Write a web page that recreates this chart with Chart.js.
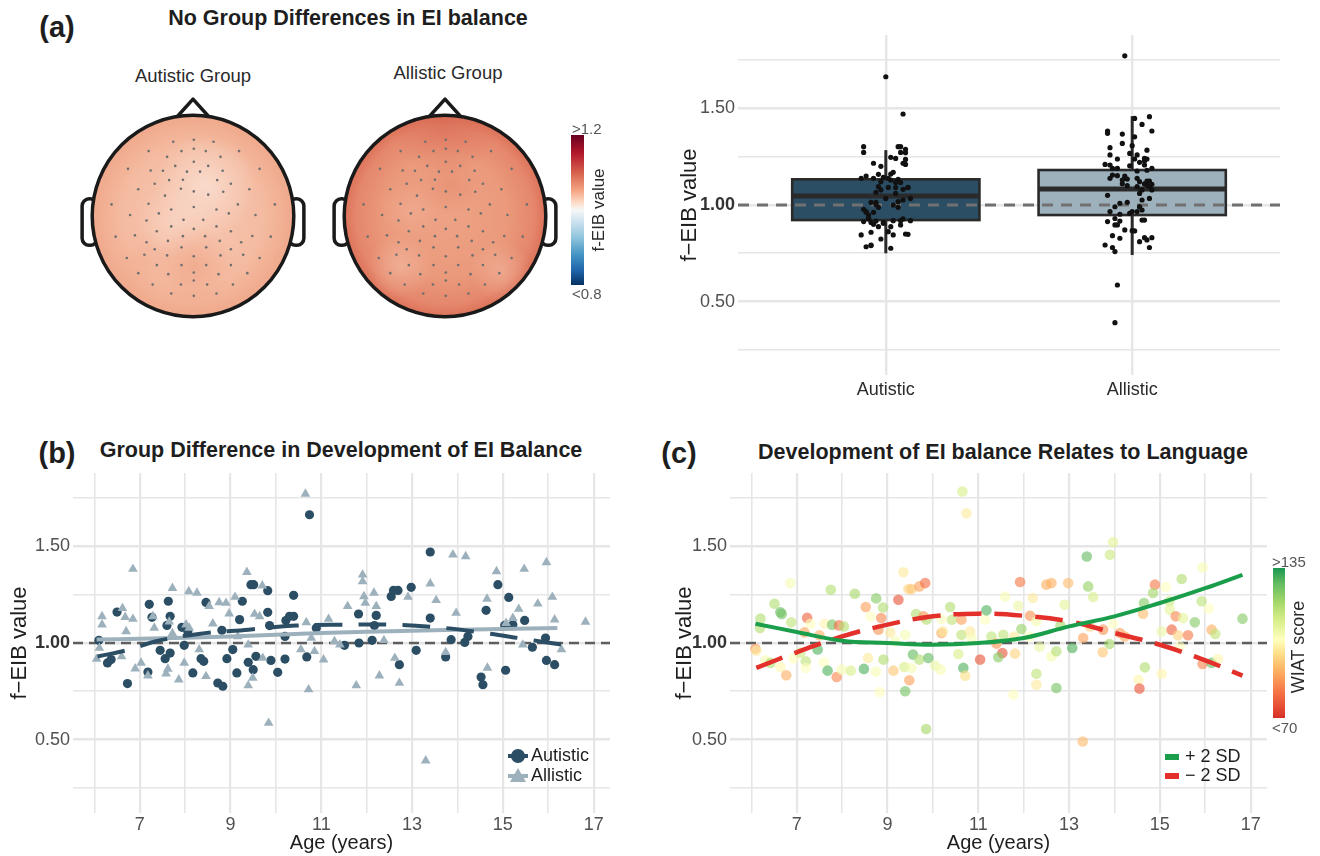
<!DOCTYPE html>
<html>
<head>
<meta charset="utf-8">
<title>f-EIB figure</title>
<script src="https://cdn.jsdelivr.net/npm/chart.js@4.4.1/dist/chart.umd.min.js"></script>
<style>
  body { margin: 0; background: #fff; font-family: "Liberation Sans", Arial, sans-serif; }
  #page { position: relative; width: 1320px; height: 856px; overflow: hidden; background: #fff; }
  canvas { position: absolute; }
  .txt { position: absolute; white-space: nowrap; transform: translate(-50%, -50%); color: #1e1e1e; }
  .tag { font-weight: bold; font-size: 29px; }
  .ttl { font-weight: bold; font-size: 21.5px; }
  .sub { font-size: 18.5px; color: #2a2a2a; }
  .cb { position: absolute; }
  .cblab { position: absolute; white-space: nowrap; font-size: 15px; color: #555; transform: translateY(-50%); }
  .vert { position: absolute; white-space: nowrap; color: #2a2a2a; transform: translate(-50%, -50%) rotate(-90deg); }
</style>
</head>
<body>
<div id="page">
  <div class="txt tag" style="left:57px; top:27px;">(a)</div>
  <div class="txt ttl" style="left:348px; top:18px;">No Group Differences in EI balance</div>
  <div class="txt sub" style="left:193px; top:76px;">Autistic Group</div>
  <div class="txt sub" style="left:448px; top:73px;">Allistic Group</div>

  <canvas id="headAut" width="260" height="260" style="left:63px; top:86px;"></canvas>
  <canvas id="headAll" width="260" height="260" style="left:315px; top:86px;"></canvas>

  <div class="cb" style="left:571px; top:135px; width:13px; height:150px;
       background: linear-gradient(to bottom, #67001f 0%, #b2182b 12%, #d6604d 25%, #f4a582 37%, #fddbc7 45%, #f7f7f7 50%, #d1e5f0 57%, #92c5de 68%, #4393c3 80%, #2166ac 90%, #053061 100%);"></div>
  <div class="cblab" style="left:572px; top:128px;">&gt;1.2</div>
  <div class="cblab" style="left:572px; top:293px;">&lt;0.8</div>
  <div class="vert" style="left:599px; top:210px; font-size:17px;">f-EIB value</div>

  <canvas id="boxChart" width="660" height="420" style="left:660px; top:0px;"></canvas>

  <div class="txt tag" style="left:57px; top:453px;">(b)</div>
  <div class="txt ttl" style="left:341px; top:450px;">Group Difference in Development of EI Balance</div>
  <canvas id="ageGroupChart" width="660" height="426" style="left:0px; top:430px;"></canvas>

  <div class="txt tag" style="left:679px; top:453px;">(c)</div>
  <div class="txt ttl" style="left:1003px; top:452px;">Development of EI balance Relates to Language</div>
  <canvas id="wiatChart" width="660" height="426" style="left:660px; top:430px;"></canvas>

  <div id="wiatBar" class="cb" style="left:1273px; top:568px; width:12px; height:150px;"></div>
  <div class="cblab" style="left:1272px; top:561px;">&gt;135</div>
  <div class="cblab" style="left:1272px; top:727px;">&lt;70</div>
  <div class="vert" style="left:1298px; top:647px; font-size:18px;">WIAT score</div>
</div>

<script>
// ---------- data ----------
const groups = ['Autistic', 'Allistic'];
const groupPos = [1, 2];
const yTicks = [0.25, 0.5, 0.75, 1, 1.25, 1.5, 1.75];
const ageTicks = [6, 7, 8, 9, 10, 11, 12, 13, 14, 15, 16, 17];

// boxplot summary
const boxQ1 = [0.922, 0.948];
const boxMedian = [1.047, 1.083];
const boxQ3 = [1.133, 1.181];
const whiskerLow = [0.75, 0.741];
const whiskerHigh = [1.284, 1.46];

// panel b - autistic participants
const autAge = [6.1, 6.29, 6.37, 6.5, 6.73, 7.18, 7.21, 7.27, 7.45, 7.56, 7.6, 7.63, 7.67, 7.67, 7.93, 7.98, 8.06, 8.17, 8.35, 8.41,
  8.46, 8.72, 8.83, 8.81, 8.92, 9.05, 9.14, 9.2, 9.26, 9.39, 9.45, 9.51, 9.5, 9.56, 9.82, 9.82, 9.86, 9.89, 10.04, 10.2,
  10.2, 10.22, 10.3, 10.39, 10.39, 10.68, 10.74, 10.89, 11.51, 11.82, 11.83, 12.12, 12.17, 12.21, 12.54, 12.59, 12.69, 12.72, 12.98, 13.09,
  13.4, 13.4, 13.74, 13.86, 14.16, 14.23, 14.52, 14.56, 14.63, 14.89, 15.06, 15.04, 15.13, 15.22, 15.48, 15.65, 15.94, 15.96, 16.14];
const autVal = [1.014, 0.897, 0.914, 1.16, 0.79, 0.85, 1.2, 1.133, 0.962, 0.919, 1.091, 1.216, 1.138, 0.948, 1.081, 0.988, 1.06, 0.845, 0.919, 0.905,
  1.21, 0.793, 0.776, 1.066, 0.919, 0.966, 0.845, 1.121, 1.216, 0.9, 1.302, 1.302, 0.862, 0.931, 1.271, 1.159, 1.09, 0.91, 0.848, 1.034,
  0.917, 1.116, 1.138, 1.247, 1.138, 0.928, 1.664, 1.078, 0.988, 1.15, 1.0, 1.014, 1.09, 1.143, 1.241, 1.272, 1.272, 0.888, 1.288, 0.962,
  1.471, 1.129, 0.928, 1.017, 1.003, 1.034, 0.824, 0.784, 1.169, 1.302, 0.859, 1.091, 1.236, 1.095, 1.117, 0.978, 1.026, 0.91, 0.888];
// horizontal jitter used for the boxplot dots
const autJitter = [-0.04, 0.06, -0.09, 0.02, -0.06, 0.08, -0.02, 0.05, -0.08, 0.03,
  0.09, -0.05, 0.01, -0.07, 0.07, -0.03, 0.04, -0.1, 0.06, -0.01,
  0.08, -0.06, 0.02, -0.04, 0.1, -0.08, 0.03, -0.02, 0.07, -0.05,
  -0.09, 0.05, 0.01, -0.07, 0.08, -0.03, 0.04, -0.06, 0.09, 0.0,
  -0.04, 0.06, -0.1, 0.02, -0.05, 0.07, 0.0, -0.02, 0.05, -0.08,
  0.03, -0.06, 0.09, -0.01, 0.04, -0.09, 0.06, -0.03, 0.08, -0.05,
  0.07, 0.02, -0.07, 0.05, -0.04, 0.1, -0.02, -0.08, 0.03, 0.06,
  -0.06, 0.01, 0.08, -0.03, 0.04, -0.09, 0.07, -0.01, 0.02];

// panel b - allistic participants
const allAge = [6.05, 6.11, 6.17, 6.17, 6.6, 6.62, 6.68, 6.7, 6.85, 6.85, 6.9, 7.03, 7.18, 7.29, 7.32, 7.58, 7.62, 7.65, 7.72, 7.72,
  7.86, 7.98, 8.02, 8.08, 8.09, 8.26, 8.31, 8.46, 8.53, 8.61, 8.75, 8.9, 8.97, 9.1, 9.16, 9.36, 9.39, 9.39, 9.49, 9.53,
  9.64, 9.7, 9.71, 9.84, 10.55, 10.65, 10.67, 10.72, 10.78, 10.85, 11.05, 11.16, 11.29, 11.41, 11.58, 11.77, 11.91, 11.91, 11.94, 11.97,
  12.16, 12.21, 12.28, 12.38, 12.62, 12.72, 12.91, 13.3, 13.4, 13.53, 13.74, 13.9, 13.97, 14.18, 14.66, 14.65, 14.86, 15.07, 15.22, 15.35,
  15.44, 15.47, 15.77, 15.96, 16.09, 16.14, 16.29, 16.82];
const allVal = [0.917, 0.974, 1.138, 1.095, 0.93, 1.18, 1.134, 1.06, 1.383, 1.124, 0.867, 0.897, 0.831, 1.138, 1.078, 0.841, 0.866, 1.11, 1.284, 1.05,
  0.81, 0.897, 1.095, 1.267, 1.078, 1.259, 0.966, 0.828, 1.19, 1.10, 1.21, 1.207, 1.152, 1.238, 1.034, 1.367, 0.991, 0.78, 0.819, 1.15,
  1.138, 1.297, 0.922, 0.586, 0.966, 1.772, 1.107, 0.759, 1.026, 0.957, 0.914, 1.124, 1.009, 0.991, 1.19, 0.78, 1.353, 1.319, 1.241, 1.207,
  1.259, 1.19, 0.831, 1.014, 0.922, 0.793, 1.238, 0.391, 1.307, 1.221, 0.952, 1.457, 1.155, 1.448, 0.871, 1.228, 1.371, 1.103, 1.129, 1.176,
  0.991, 1.383, 1.203, 1.417, 1.238, 1.121, 0.966, 1.109];
const allJitter = [-0.05, 0.04, -0.09, 0.02, -0.07, 0.06, -0.02, 0.03, -0.1, 0.07,
  0.0, -0.06, 0.05, -0.03, 0.08, -0.08, 0.01, -0.04, 0.06, -0.1,
  0.03, -0.07, 0.07, -0.01, 0.04, -0.09, 0.02, -0.05, 0.08, -0.02,
  -0.11, 0.05, -0.06, 0.01, 0.07, -0.04, 0.03, -0.08, 0.06, -0.03,
  0.02, -0.09, 0.05, -0.06, 0.0, -0.03, 0.08, -0.07, 0.04, -0.01,
  -0.1, 0.06, -0.05, 0.03, -0.08, 0.07, 0.01, -0.04, 0.05, -0.09,
  0.02, -0.06, 0.08, -0.02, 0.04, -0.11, 0.06, -0.07, 0.0, 0.03,
  -0.05, 0.07, -0.08, 0.01, -0.03, 0.05, -0.1, 0.06, -0.04, 0.02,
  -0.07, 0.08, -0.01, 0.04, -0.06, 0.03, -0.09, 0.05];

// fitted curves, panel b
const autFitAge = [6.07, 6.77, 7.36, 8.3, 9.4, 10.44, 11.48, 12.52, 13.48, 14.51, 15.5, 16.31];
const autFitVal = [0.93, 0.966, 1.009, 1.047, 1.069, 1.09, 1.095, 1.095, 1.083, 1.055, 1.02, 0.991];
const allFitAge = [6.05, 7, 9, 11, 13, 15, 16.2];
const allFitVal = [1.018, 1.022, 1.034, 1.052, 1.064, 1.072, 1.078];

// panel c - participants coloured by WIAT score
const wiatAge = [6.09, 6.11, 6.2, 6.19, 6.31, 6.42, 6.51, 6.64, 6.67, 6.64, 6.77, 6.86, 6.88, 6.93, 7.08, 7.23, 7.3, 7.17, 7.2, 7.2,
  7.46, 7.5, 7.6, 7.62, 7.68, 7.75, 7.78, 7.88, 7.93, 7.99, 8.04, 8.19, 8.28, 8.48, 8.57, 8.52, 8.63, 8.75, 8.83, 8.74,
  8.86, 8.9, 8.91, 8.8, 9.06, 9.13, 9.17, 9.24, 9.35, 9.39, 9.37, 9.39, 9.46, 9.53, 9.48, 9.53, 9.56, 9.63, 9.7, 9.7,
  9.83, 9.79, 9.86, 9.85, 9.9, 10.05, 10.17, 10.19, 10.22, 10.19, 10.38, 10.42, 10.56, 10.63, 10.65, 10.67, 10.74, 10.71, 10.63, 10.82,
  10.85, 11.04, 11.15, 11.18, 11.29, 11.4, 11.53, 11.44, 11.55, 11.59, 11.77, 11.81, 11.79, 11.88, 11.92, 11.95, 12.13, 12.14, 12.2, 12.28,
  12.28, 12.28, 12.35, 12.5, 12.61, 12.61, 12.72, 12.72, 12.81, 12.9, 12.98, 13.07, 13.3, 13.39, 13.42, 13.53, 13.31, 13.46, 13.75, 13.74,
  13.89, 13.9, 13.97, 13.97, 14.12, 14.23, 14.53, 14.55, 14.65, 14.63, 14.67, 14.89, 14.85, 15.04, 15.04, 15.13, 15.21, 15.22, 15.35, 15.26,
  15.4, 15.44, 15.48, 15.51, 15.62, 15.77, 15.92, 15.94, 16.08, 16.14, 16.22, 15.94, 16.14, 16.28, 16.82];
const wiatVal = [0.97, 0.96, 1.126, 1.078, 0.91, 0.897, 1.203, 1.159, 1.15, 0.876, 0.833, 1.31, 1.107, 0.92, 0.95, 1.13, 1.1, 1.055, 0.905, 0.87,
  0.966, 1.04, 0.9, 1.1, 0.857, 1.276, 1.095, 0.824, 1.091, 0.862, 1.086, 0.857, 1.255, 0.866, 0.922, 1.186, 1.138, 1.231, 0.745, 0.852,
  1.129, 1.184, 0.914, 1.069, 1.055, 0.857, 1.009, 1.224, 1.366, 1.043, 0.876, 0.75, 1.279, 1.279, 0.807, 0.87, 0.94, 1.15, 1.293, 0.914,
  1.31, 1.138, 1.121, 0.555, 0.922, 0.883, 0.862, 1.052, 1.06, 1.124, 1.186, 1.12, 0.943, 1.043, 1.784, 0.871, 1.672, 0.831, 1.121, 1.06,
  1.026, 0.914, 1.121, 1.169, 1.034, 0.997, 0.948, 0.926, 1.043, 1.241, 0.733, 0.945, 1.034, 1.193, 1.316, 1.072, 1.034, 1.141, 1.233, 1.112,
  0.841, 0.784, 0.98, 1.302, 1.31, 0.93, 0.957, 0.767, 1.091, 1.198, 1.31, 0.974, 0.49, 1.448, 1.293, 1.238, 1.026, 1.086, 1.069, 0.952,
  0.995, 1.457, 1.1, 1.522, 1.052, 1.034, 0.81, 0.764, 1.207, 1.152, 0.874, 1.302, 1.259, 0.841, 1.06, 1.29, 1.216, 1.172, 1.138, 1.069,
  1.04, 0.983, 1.331, 1.129, 1.04, 1.107, 1.216, 1.391, 1.178, 1.069, 1.047, 0.891, 0.897, 0.917, 1.126];
const wiatScore = [86, 100, 118, 118, 106, 118, 118, 128, 126, 102, 90, 106, 116, 104, 114, 78, 104, 88, 116, 104,
  130, 90, 104, 102, 130, 118, 126, 84, 80, 106, 118, 112, 120, 130, 100, 88, 104, 124, 104, 106,
  84, 118, 118, 86, 100, 94, 106, 76, 100, 106, 112, 126, 96, 94, 88, 106, 128, 118, 88, 118,
  80, 86, 118, 120, 128, 108, 106, 88, 100, 104, 118, 116, 112, 116, 112, 130, 100, 98, 88, 100,
  106, 76, 104, 130, 116, 86, 76, 124, 116, 106, 104, 96, 100, 108, 82, 122, 104, 86, 100, 106,
  116, 100, 108, 90, 90, 106, 118, 126, 120, 110, 92, 130, 92, 128, 122, 112, 88, 96, 86, 94,
  120, 114, 104, 110, 88, 90, 102, 76, 124, 92, 118, 82, 120, 102, 108, 104, 114, 110, 84, 78,
  96, 104, 118, 110, 82, 124, 116, 106, 104, 90, 116, 84, 128, 102, 124];

// fitted curves at +2 SD / -2 SD WIAT, panel c
const hiFitAge = [6.09, 7, 8, 9, 10, 11, 12, 13, 14, 15, 16, 16.82];
const hiFitVal = [1.1, 1.057, 1.012, 1.0, 0.991, 1.0, 1.026, 1.086, 1.138, 1.207, 1.284, 1.353];
const loFitAge = [6.11, 7, 8, 9, 10, 11, 12, 13, 14, 15, 16, 16.82];
const loFitVal = [0.871, 0.952, 1.034, 1.095, 1.138, 1.152, 1.141, 1.112, 1.052, 0.991, 0.91, 0.831];

// electrode layout (head radius = 1, nose up)
const elecX = [-0.196, 0.008, 0.204, -0.44, -0.114, 0.008, 0.127, 0.457, -0.257, 0.273,
  0.008, -0.176, 0.151, -0.645, -0.42, -0.298, -0.06, 0.07, 0.294, 0.661,
  -0.38, -0.237, -0.1, 0.24, 0.376, -0.543, -0.12, 0.008, 0.151, -0.278, 0.559, 0.3,
  -0.808, -0.441, -0.216, 0.008, 0.233, 0.445, 0.812, -0.624, -0.339, -0.094, 0.102, 0.355, 0.62,
  -0.461, 0.008, -0.216, 0.233, -0.767, -0.576, -0.359, -0.1, 0.12, 0.376, 0.588, 0.771,
  -0.461, -0.249, 0.265, 0.478, -0.114, 0.131, 0.376, -0.38,
  -0.657, -0.482, -0.257, 0.008, 0.273, 0.498, 0.661, -0.359, -0.114, 0.131, 0.376,
  -0.543, -0.245, 0.008, 0.253, 0.539, -0.4, 0.008, 0.396, -0.12, 0.14, -0.216, 0.008, 0.233];
const elecY = [0.737, 0.756, 0.737, 0.644, 0.644, 0.667, 0.644, 0.644, 0.587, 0.587,
  0.538, 0.497, 0.497, 0.468, 0.452, 0.449, 0.44, 0.44, 0.449, 0.468,
  0.32, 0.356, 0.36, 0.356, 0.32, 0.266, 0.27, 0.244, 0.212, 0.202, 0.266, 0.24,
  0.115, 0.122, 0.064, 0.09, 0.064, 0.115, 0.115, 0.01, 0.026, -0.038, -0.038, 0.026, 0.01,
  -0.045, -0.128, -0.103, -0.103, -0.205, -0.192, -0.151, -0.2, -0.2, -0.151, -0.199, -0.205,
  -0.26, -0.247, -0.247, -0.26, -0.311, -0.311, -0.33, -0.33,
  -0.417, -0.385, -0.391, -0.4, -0.391, -0.385, -0.417, -0.487, -0.487, -0.487, -0.487,
  -0.567, -0.577, -0.56, -0.577, -0.567, -0.679, -0.64, -0.679, -0.68, -0.68, -0.769, -0.792, -0.769];

// ---------- styles ----------
const autColor = '#2b4e64';
const allColor = '#9db1bd';
const gridColor = '#e6e6e6';
const tickColor = '#505050';
const titleColor = '#1e1e1e';
const font = '"Liberation Sans", Arial, sans-serif';

Chart.defaults.font.family = font;
Chart.defaults.animation = false;
Chart.defaults.responsive = false;
Chart.defaults.events = [];
Chart.defaults.plugins.legend.display = false;
Chart.defaults.plugins.tooltip.enabled = false;

const wiatStops = [
  [70, [215, 48, 39]], [80, [244, 109, 67]], [90, [253, 174, 97]], [98, [254, 224, 139]],
  [104, [255, 255, 191]], [112, [217, 239, 139]], [120, [166, 217, 106]], [128, [102, 189, 99]], [135, [26, 152, 80]]
];
function wiatColor(s, alpha) {
  s = Math.max(70, Math.min(135, s));
  for (let i = 1; i < wiatStops.length; i++) {
    const [s1, c1] = wiatStops[i];
    const [s0, c0] = wiatStops[i - 1];
    if (s <= s1) {
      const t = (s - s0) / (s1 - s0);
      const c = c0.map((v, k) => Math.round(v + (c1[k] - v) * t));
      return 'rgba(' + c[0] + ',' + c[1] + ',' + c[2] + ',' + alpha + ')';
    }
  }
}
document.getElementById('wiatBar').style.background = 'linear-gradient(to top, ' +
  wiatStops.map(st => 'rgb(' + st[1].join(',') + ') ' + ((st[0] - 70) / 65 * 100).toFixed(1) + '%').join(', ') + ')';

function pairs(xs, ys) {
  return xs.map((x, i) => ({ x: x, y: ys[i] }));
}

const isHalf = v => Math.abs(v * 2 - Math.round(v * 2)) < 1e-6;
const tickVal = c => (c && c.tick ? c.tick.value : null);

// dashed reference line at f-EIB = 1
const refLine = {
  id: 'refLine',
  beforeDatasetsDraw(chart, args, opts) {
    const { ctx, chartArea: a, scales: { y } } = chart;
    const py = y.getPixelForValue(1);
    ctx.save();
    ctx.strokeStyle = opts.color || '#666';
    ctx.lineWidth = opts.width || 2.5;
    ctx.setLineDash(opts.dash || [10, 6]);
    ctx.beginPath();
    ctx.moveTo(a.left, py);
    ctx.lineTo(a.right, py);
    ctx.stroke();
    ctx.restore();
  }
};

function yAxis(width, titlePad) {
  return {
    type: 'linear', min: 0.12, max: 1.88,
    afterBuildTicks: s => { s.ticks = yTicks.map(v => ({ value: v })); },
    afterFit: s => { s.width = width; },
    ticks: {
      autoSkip: false, padding: 3,
      color: c => (tickVal(c) === 1 ? '#333' : tickColor),
      font: c => (tickVal(c) === 1 ? { size: 18, weight: 'bold' } : { size: 18 }),
      callback: v => (isHalf(v) ? v.toFixed(2) : '')
    },
    grid: {
      color: gridColor, drawTicks: false,
      lineWidth: c => (tickVal(c) !== null && isHalf(tickVal(c)) ? 2.6 : 1.6)
    },
    border: { display: false },
    title: { display: true, text: 'f\u2212EIB value', color: titleColor, font: { size: 22 }, padding: { top: titlePad, bottom: 0 } }
  };
}

function ageAxis() {
  return {
    type: 'linear', min: 5.53, max: 17.36,
    afterBuildTicks: s => { s.ticks = ageTicks.map(v => ({ value: v })); },
    afterFit: s => { s.height = 43; },
    ticks: {
      autoSkip: false, maxRotation: 0, padding: 1, color: tickColor, font: { size: 18 },
      callback: v => (v % 2 === 1 ? String(v) : '')
    },
    grid: { color: gridColor, drawTicks: false, lineWidth: c => (tickVal(c) % 2 === 1 ? 2.2 : 1.6) },
    border: { display: false },
    title: { display: true, text: 'Age (years)', color: titleColor, font: { size: 20 }, padding: { top: 0, bottom: 1 } }
  };
}

// ---------- (a) topographic maps ----------
function blob(ctx, x, y, r, color) {
  const g = ctx.createRadialGradient(x, y, 0, x, y, r);
  g.addColorStop(0, color);
  g.addColorStop(1, color.replace(/[\d.]+\)$/, '0)'));
  ctx.fillStyle = g;
  ctx.fillRect(x - r, y - r, 2 * r, 2 * r);
}

const paintAut = (ctx, cx, cy, r) => {
  const g = ctx.createRadialGradient(cx, cy, 0, cx, cy, r);
  g.addColorStop(0, '#f7c8b2');
  g.addColorStop(0.7, '#f4bba1');
  g.addColorStop(1, '#f0a88b');
  ctx.fillStyle = g;
  ctx.fillRect(cx - r, cy - r, 2 * r, 2 * r);
  blob(ctx, cx + 0.12 * r, cy - 0.3 * r, 0.5 * r, 'rgba(250,222,209,0.85)');
  blob(ctx, cx - 0.2 * r, cy + 0.05 * r, 0.35 * r, 'rgba(249,216,200,0.6)');
  blob(ctx, cx, cy + 0.5 * r, 0.4 * r, 'rgba(236,150,118,0.45)');
  blob(ctx, cx - 0.5 * r, cy + 0.45 * r, 0.3 * r, 'rgba(240,165,136,0.35)');
};

const paintAll = (ctx, cx, cy, r) => {
  const g = ctx.createRadialGradient(cx, cy, 0, cx, cy, r);
  g.addColorStop(0, '#eea386');
  g.addColorStop(0.6, '#eb9a7c');
  g.addColorStop(0.88, '#e5876c');
  g.addColorStop(1, '#dc7259');
  ctx.fillStyle = g;
  ctx.fillRect(cx - r, cy - r, 2 * r, 2 * r);
  blob(ctx, cx, cy - 0.95 * r, 0.55 * r, 'rgba(212,96,76,0.5)');
  blob(ctx, cx - 0.45 * r, cy + 0.5 * r, 0.32 * r, 'rgba(243,186,162,0.65)');
  blob(ctx, cx + 0.55 * r, cy + 0.55 * r, 0.3 * r, 'rgba(243,186,162,0.6)');
  blob(ctx, cx - 0.35 * r, cy - 0.05 * r, 0.28 * r, 'rgba(242,180,156,0.45)');
  blob(ctx, cx + 0.05 * r, cy - 0.3 * r, 0.3 * r, 'rgba(226,128,100,0.35)');
};

const headPlugin = {
  id: 'head',
  beforeDatasetsDraw(chart, args, opts) {
    const { ctx, scales: { x, y } } = chart;
    const cx = x.getPixelForValue(0), cy = y.getPixelForValue(0);
    const r = x.getPixelForValue(1) - cx;
    ctx.save();
    ctx.lineWidth = 3.5;
    ctx.strokeStyle = '#1a1a1a';
    ctx.lineJoin = 'round';
    ctx.fillStyle = '#fff';
    // ears
    [-1, 1].forEach(side => {
      const x0 = side < 0 ? cx - 1.1 * r : cx + 0.95 * r;
      ctx.beginPath();
      ctx.roundRect(x0, cy - 0.17 * r, 0.15 * r, 0.46 * r, 0.07 * r);
      ctx.fill();
      ctx.stroke();
    });
    // nose
    ctx.beginPath();
    ctx.moveTo(cx - 0.18 * r, cy - 0.96 * r);
    ctx.lineTo(cx, cy - 1.16 * r);
    ctx.lineTo(cx + 0.18 * r, cy - 0.96 * r);
    ctx.closePath();
    ctx.fill();
    ctx.stroke();
    // scalp
    ctx.save();
    ctx.beginPath();
    ctx.arc(cx, cy, r, 0, Math.PI * 2);
    ctx.clip();
    opts.paint(ctx, cx, cy, r);
    ctx.restore();
    ctx.beginPath();
    ctx.arc(cx, cy, r, 0, Math.PI * 2);
    ctx.stroke();
    ctx.restore();
  }
};

function headChart(id, paint) {
  return new Chart(document.getElementById(id), {
    type: 'scatter',
    data: { datasets: [{ data: pairs(elecX, elecY), pointRadius: 1.3, backgroundColor: '#6f6f6f', borderWidth: 0 }] },
    options: {
      layout: { padding: 0 },
      plugins: { head: { paint: paint } },
      scales: {
        x: { display: false, min: -1.25, max: 1.25 },
        y: { display: false, min: -1.25, max: 1.25 }
      }
    },
    plugins: [headPlugin]
  });
}
headChart('headAut', paintAut);
headChart('headAll', paintAll);

// ---------- (a) boxplot ----------
const boxPlugin = {
  id: 'boxes',
  beforeDatasetsDraw(chart) {
    const { ctx, scales: { x, y } } = chart;
    const fills = [autColor, allColor];
    const half = 0.38;
    ctx.save();
    ctx.strokeStyle = '#2a2a2a';
    groupPos.forEach((p, i) => {
      const px = x.getPixelForValue(p);
      const l = x.getPixelForValue(p - half), rr = x.getPixelForValue(p + half);
      ctx.lineWidth = 3;
      ctx.beginPath();
      ctx.moveTo(px, y.getPixelForValue(whiskerLow[i]));
      ctx.lineTo(px, y.getPixelForValue(whiskerHigh[i]));
      ctx.stroke();
      const top = y.getPixelForValue(boxQ3[i]), bot = y.getPixelForValue(boxQ1[i]);
      ctx.fillStyle = fills[i];
      ctx.fillRect(l, top, rr - l, bot - top);
      ctx.lineWidth = 2.6;
      ctx.strokeRect(l, top, rr - l, bot - top);
      ctx.lineWidth = 5;
      const pm = y.getPixelForValue(boxMedian[i]);
      ctx.beginPath();
      ctx.moveTo(l, pm);
      ctx.lineTo(rr, pm);
      ctx.stroke();
    });
    // reference line drawn over the boxes
    const py = y.getPixelForValue(1);
    ctx.strokeStyle = '#707070';
    ctx.lineWidth = 3;
    ctx.setLineDash([11, 8]);
    ctx.beginPath();
    ctx.moveTo(chart.chartArea.left, py);
    ctx.lineTo(chart.chartArea.right, py);
    ctx.stroke();
    ctx.restore();
  }
};

new Chart(document.getElementById('boxChart'), {
  type: 'scatter',
  data: {
    datasets: [
      { data: autVal.map((v, i) => ({ x: groupPos[0] + autJitter[i], y: v })), pointRadius: 2.6, backgroundColor: '#111', borderWidth: 0 },
      { data: allVal.map((v, i) => ({ x: groupPos[1] + allJitter[i], y: v })), pointRadius: 2.6, backgroundColor: '#111', borderWidth: 0 }
    ]
  },
  options: {
    layout: { padding: { top: 35, right: 40, left: 0, bottom: 0 } },
    scales: {
      x: {
        type: 'linear', min: 0.4, max: 2.6,
        afterBuildTicks: s => { s.ticks = groupPos.map(v => ({ value: v })); },
        afterFit: s => { s.height = 45; },
        ticks: { autoSkip: false, maxRotation: 0, padding: 4, color: '#2a2a2a', font: { size: 18 }, callback: (v, i) => groups[i] },
        grid: { color: gridColor, lineWidth: 2.4, drawTicks: false },
        border: { display: false }
      },
      y: yAxis(78, 17)
    }
  },
  plugins: [boxPlugin]
});

// ---------- (b) age x group ----------
const groupLegend = {
  id: 'groupLegend',
  afterDatasetsDraw(chart) {
    const { ctx, chartArea: a } = chart;
    const lx = a.right - 92, y1 = a.bottom - 57, y2 = a.bottom - 37;
    ctx.save();
    ctx.lineWidth = 4;
    ctx.strokeStyle = autColor;
    ctx.beginPath(); ctx.moveTo(lx - 10, y1); ctx.lineTo(lx + 10, y1); ctx.stroke();
    ctx.fillStyle = autColor;
    ctx.beginPath(); ctx.arc(lx, y1, 7, 0, Math.PI * 2); ctx.fill();
    ctx.strokeStyle = allColor;
    ctx.beginPath(); ctx.moveTo(lx - 10, y2); ctx.lineTo(lx + 10, y2); ctx.stroke();
    ctx.fillStyle = allColor;
    ctx.beginPath(); ctx.moveTo(lx, y2 - 8); ctx.lineTo(lx + 8, y2 + 6); ctx.lineTo(lx - 8, y2 + 6); ctx.closePath(); ctx.fill();
    ctx.fillStyle = titleColor;
    ctx.font = '18px ' + font;
    ctx.textBaseline = 'middle';
    ctx.fillText('Autistic', a.right - 79, y1);
    ctx.fillText('Allistic', a.right - 79, y2);
    ctx.restore();
  }
};

new Chart(document.getElementById('ageGroupChart'), {
  type: 'scatter',
  data: {
    datasets: [
      { label: 'Autistic fit', data: pairs(autFitAge, autFitVal), showLine: true, tension: 0.4, pointRadius: 0,
        borderColor: autColor, borderWidth: 4, borderDash: [28, 16], order: 0 },
      { label: 'Allistic fit', data: pairs(allFitAge, allFitVal), showLine: true, tension: 0.4, pointRadius: 0,
        borderColor: allColor, borderWidth: 4, order: 1 },
      { label: 'Autistic', data: pairs(autAge, autVal), pointStyle: 'circle', pointRadius: 4.6,
        backgroundColor: autColor, borderWidth: 0, order: 3 },
      { label: 'Allistic', data: pairs(allAge, allVal), pointStyle: 'triangle', pointRadius: 5.6,
        backgroundColor: allColor, borderWidth: 0, order: 2 }
    ]
  },
  options: {
    layout: { padding: { top: 43, right: 50, left: 0, bottom: 0 } },
    plugins: { refLine: { color: '#5f5f5f', width: 2.6, dash: [10, 6] } },
    scales: { x: ageAxis(), y: yAxis(73, 7) }
  },
  plugins: [refLine, groupLegend]
});

// ---------- (c) age x WIAT ----------
const sdLegend = {
  id: 'sdLegend',
  afterDatasetsDraw(chart) {
    const { ctx, chartArea: a } = chart;
    const y1 = a.bottom - 56, y2 = a.bottom - 37;
    ctx.save();
    ctx.fillStyle = '#1b9e4b';
    ctx.fillRect(a.right - 102, y1 - 3, 14, 6);
    ctx.fillStyle = '#e3302a';
    ctx.fillRect(a.right - 102, y2 - 3, 14, 6);
    ctx.fillStyle = titleColor;
    ctx.font = '18px ' + font;
    ctx.textBaseline = 'middle';
    ctx.fillText('+ 2 SD', a.right - 82, y1);
    ctx.fillText('\u2212 2 SD', a.right - 82, y2);
    ctx.restore();
  }
};

new Chart(document.getElementById('wiatChart'), {
  type: 'scatter',
  data: {
    datasets: [
      { label: '+ 2 SD', data: pairs(hiFitAge, hiFitVal), showLine: true, tension: 0.4, pointRadius: 0,
        borderColor: '#1b9e4b', borderWidth: 4, order: 0 },
      { label: '- 2 SD', data: pairs(loFitAge, loFitVal), showLine: true, tension: 0.4, pointRadius: 0,
        borderColor: '#e3302a', borderWidth: 4.5, borderDash: [28, 13], order: 1 },
      { label: 'WIAT', data: pairs(wiatAge, wiatVal), pointRadius: 5.3, borderWidth: 0,
        backgroundColor: wiatScore.map(s => wiatColor(s, 0.62)), order: 2 }
    ]
  },
  options: {
    layout: { padding: { top: 43, right: 53, left: 0, bottom: 0 } },
    plugins: { refLine: { color: '#5f5f5f', width: 2.6, dash: [10, 6] } },
    scales: { x: ageAxis(), y: yAxis(70, 12) }
  },
  plugins: [refLine, sdLegend]
});
</script>
</body>
</html>
